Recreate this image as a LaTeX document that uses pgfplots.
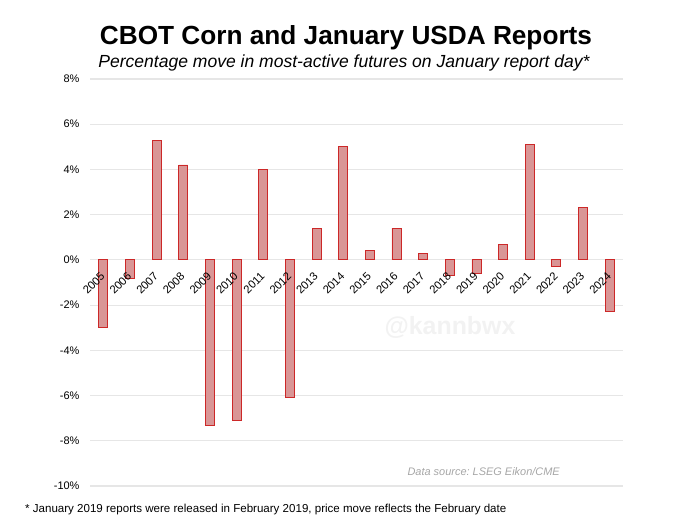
\documentclass[border=0pt]{standalone}
\usepackage{pgfplots}
\pgfplotsset{compat=1.18}
\usepackage{fontspec}
\setmainfont{Liberation Sans}
\definecolor{barfill}{RGB}{217,150,150}
\definecolor{baredge}{RGB}{204,40,40}
\definecolor{gridc}{RGB}{230,230,230}
\begin{document}
\frenchspacing
\begin{tikzpicture}[x=1bp,y=1bp]
\useasboundingbox (-90bp,-45bp) rectangle (590bp,486bp);
\begin{axis}[
  at={(0,0)}, anchor=south west,
  scale only axis, width=533bp, height=407bp,
  xmin=-0.5, xmax=19.5, ymin=-10, ymax=8,
  ytick={-10,-8,...,8},
  xtick=\empty,
  ymajorgrids, major grid style={gridc, line width=1.2bp},
  axis line style={draw=none},
  tick style={draw=none},
  /pgf/number format/assume math mode=true,
  yticklabel={\pgfmathprintnumber{\tick}\%},
  yticklabel style={font=\fontsize{11}{13}\selectfont, xshift=-7bp},
  ybar, bar width=9bp,
  clip=false,
]
\addplot[fill=barfill, draw=baredge, line width=0.8bp] coordinates {
(0,-3.0) (1,-0.8) (2,5.3) (3,4.2) (4,-7.3) (5,-7.1) (6,4.0) (7,-6.1)
(8,1.4) (9,5.0) (10,0.4) (11,1.4) (12,0.3) (13,-0.7) (14,-0.6)
(15,0.7) (16,5.1) (17,-0.3) (18,2.3) (19,-2.3)};
\pgfplotsinvokeforeach{0,...,19}{
  \node[xshift=-0.5bp, yshift=-14.5bp, rotate=45, anchor=east, inner sep=0pt,
        font=\fontsize{11.3}{13}\selectfont] at (axis cs:#1,0)
        {\pgfmathparse{int(2005+#1)}\pgfmathresult};
}
\end{axis}
\node[font=\bfseries\fontsize{26.3}{30}\selectfont] at (256bp,448bp) {CBOT Corn and January USDA Reports};
\node[font=\itshape\fontsize{17.6}{20}\selectfont] at (254bp,423bp) {Percentage move in most-active futures on January report day*};
\node[font=\bfseries\fontsize{25}{28}\selectfont, text=black!5] at (360bp,159bp) {@kannbwx};
\node[font=\itshape\fontsize{11}{13}\selectfont, text=black!35, anchor=east, inner sep=0pt] at (470bp,14bp) {Data source: LSEG Eikon/CME};
\node[font=\fontsize{11.6}{13}\selectfont, anchor=west, inner sep=0pt] at (-65bp,-24bp) {* January 2019 reports were released in February 2019, price move reflects the February date};
\end{tikzpicture}
\end{document}
